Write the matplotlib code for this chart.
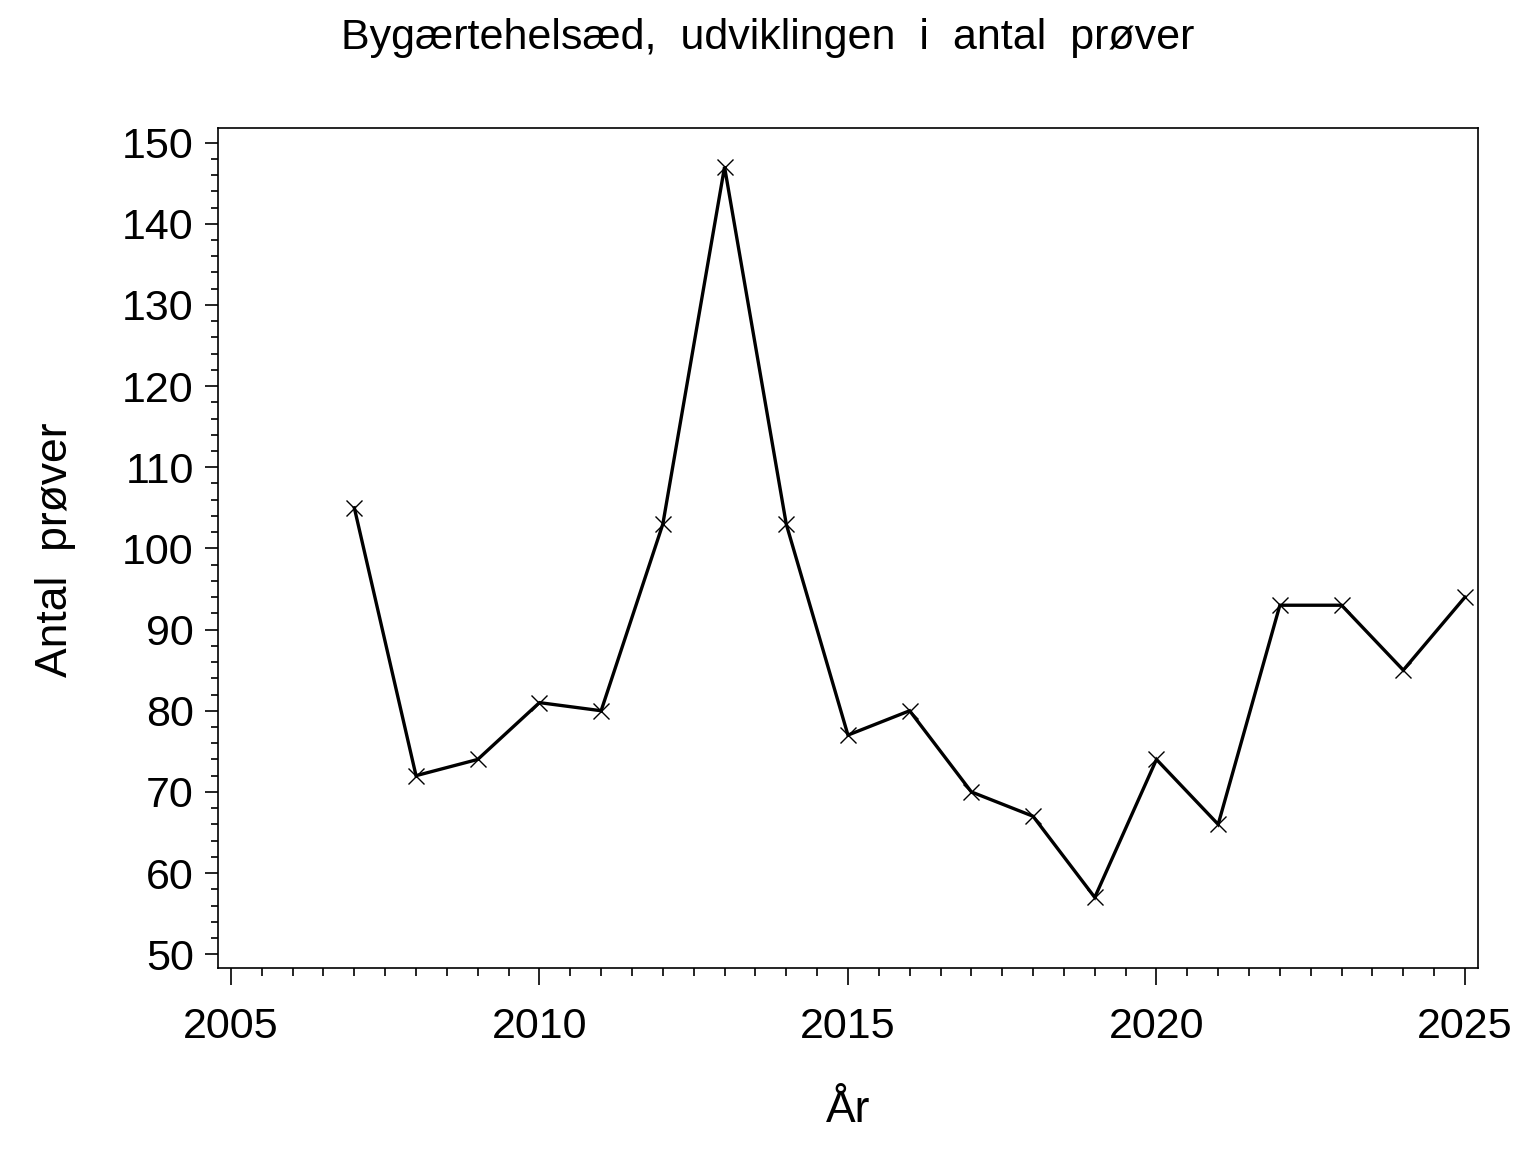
import matplotlib
matplotlib.use("Agg")
import matplotlib.pyplot as plt
from matplotlib.ticker import MultipleLocator

plt.rcParams['font.family'] = ['Liberation Sans', 'DejaVu Sans']

years = [2007, 2008, 2009, 2010, 2011, 2012, 2013, 2014, 2015, 2016,
         2017, 2018, 2019, 2020, 2021, 2022, 2023, 2024, 2025]
samples = [105, 72, 74, 81, 80, 103, 147, 103, 77, 80,
           70, 67, 57, 74, 66, 93, 93, 85, 94]
x_ticks = [2005, 2010, 2015, 2020, 2025]
y_ticks = [50, 60, 70, 80, 90, 100, 110, 120, 130, 140, 150]

fig = plt.figure(figsize=(15.36, 11.52), dpi=100)
ax = fig.add_axes([0.1419, 0.1597, 0.9622 - 0.1419, 0.8889 - 0.1597])

ax.plot(years, samples, color='black', linewidth=2.4, marker='x',
        markersize=12, markeredgewidth=1.0, solid_joinstyle='miter')

ax.set_xlim(2004.79, 2025.21)
ax.set_ylim(48.3, 151.8)
ax.set_xticks(x_ticks)
ax.set_yticks(y_ticks)
ax.xaxis.set_minor_locator(MultipleLocator(0.5))
ax.yaxis.set_minor_locator(MultipleLocator(2))

ax.tick_params(axis='x', which='major', direction='out', length=12, width=1.2,
               labelsize=31, pad=16)
ax.tick_params(axis='x', which='minor', direction='out', length=6, width=1.2)
ax.tick_params(axis='y', which='major', direction='out', length=9.5, width=1.2,
               labelsize=31, pad=8)
ax.tick_params(axis='y', which='minor', direction='out', length=5, width=1.2)

for s in ax.spines.values():
    s.set_linewidth(1.2)

fig.text(0.5, 1 - 38 / 1152, 'Bygærtehelsæd,  udviklingen  i  antal  prøver',
         ha='center', va='center', fontsize=31)
fig.text(55 / 1536, 1 - 550 / 1152, 'Antal  prøver', rotation=90,
         ha='center', va='center', fontsize=32)
fig.text(848 / 1536, 1 - 1110 / 1152, 'År', ha='center', va='center', fontsize=32)

fig.savefig('out.png', dpi=100, facecolor='white')
